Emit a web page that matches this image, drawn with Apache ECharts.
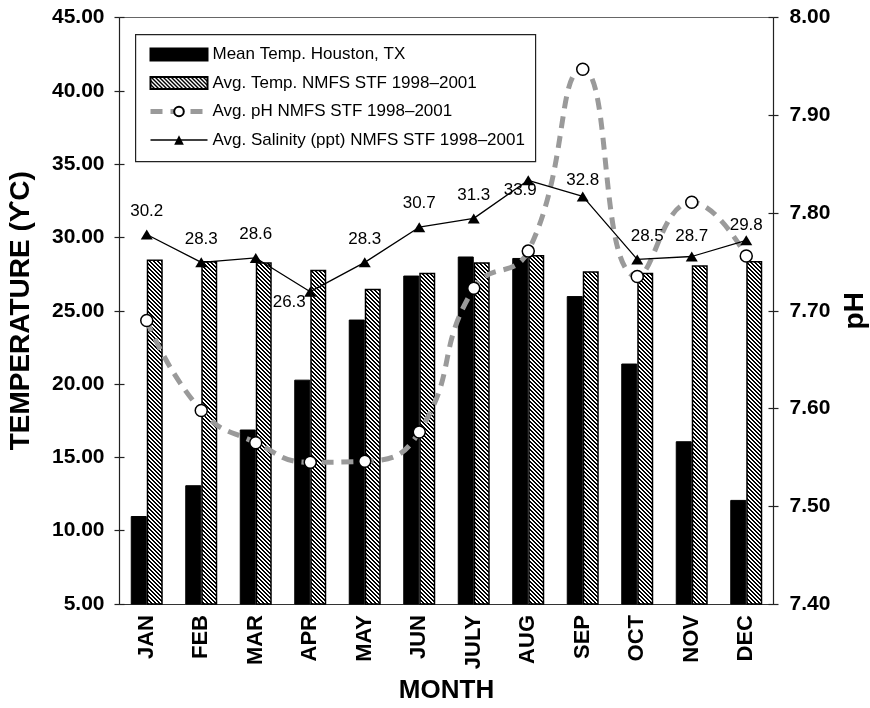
<!DOCTYPE html>
<html>
<head>
<meta charset="utf-8">
<script src="https://cdn.jsdelivr.net/npm/echarts@6/dist/echarts.min.js"></script>
<style>
html,body{margin:0;padding:0;background:#fff;}
#chart{width:870px;height:708px;}
</style>
</head>
<body>
<div id="chart"></div>
<script>
// ---- data ----
const months = ['JAN','FEB','MAR','APR','MAY','JUN','JULY','AUG','SEP','OCT','NOV','DEC'];
const meanTempHouston = [11.0, 13.1, 16.9, 20.3, 24.4, 27.4, 28.7, 28.6, 26.0, 21.4, 16.1, 12.1];
const avgTempNMFS = [28.5, 28.4, 28.3, 27.8, 26.5, 27.6, 28.3, 28.8, 27.7, 27.6, 28.1, 28.4];
const avgPH = [7.690, 7.598, 7.565, 7.545, 7.546, 7.576, 7.723, 7.761, 7.947, 7.735, 7.811, 7.756];
const avgSalinity = [30.2, 28.3, 28.6, 26.3, 28.3, 30.7, 31.3, 33.9, 32.8, 28.5, 28.7, 29.8];
const seriesNames = ['Mean Temp. Houston, TX', 'Avg. Temp. NMFS STF 1998\u20132001', 'Avg. pH NMFS STF 1998\u20132001', 'Avg. Salinity (ppt) NMFS STF 1998\u20132001'];
const tempTicks = {min: 5, max: 45, interval: 5};
const phTicks = {min: 7.4, max: 8.0, interval: 0.1};

// ---- styling helpers ----
const FF = '"Liberation Sans", Arial, Helvetica, sans-serif';
const labelOffsets = [[0,0],[0,0],[0,0],[-21,34],[0,0],[0,0],[0,0],[-8,34],[0,7],[10,0],[0,3],[0,8]];

function makeHatch() {
  const c = document.createElement('canvas');
  c.width = 4; c.height = 4;
  const ctx = c.getContext('2d');
  ctx.fillStyle = '#fff'; ctx.fillRect(0,0,4,4);
  ctx.fillStyle = '#000';
  for (let i = 0; i < 4; i++) { ctx.fillRect(i, i, 1, 1); ctx.fillRect((i+1)%4, i, 1, 1); }
  return c;
}
const hatch = makeHatch();

const chart = echarts.init(document.getElementById('chart'), null, {renderer: 'canvas'});

const tickLabel = {fontSize: 21, fontWeight: 'bold', color: '#000', fontFamily: FF};
const titleStyle = {fontSize: 26, fontWeight: 'bold', color: '#000', fontFamily: FF};
const vTitleStyle = {fontSize: 28, fontWeight: 'bold', color: '#000', fontFamily: FF};

const option = {
  animation: false,
  backgroundColor: '#fff',
  textStyle: {fontFamily: FF},
  grid: {left: 119.5, right: 96.5, top: 17.5, bottom: 104, containLabel: false, outerBoundsMode: 'none'},
  graphic: [{
    type: 'rect', left: 135, top: 34, z: 1,
    shape: {width: 400, height: 127},
    style: {fill: '#fff', stroke: '#222', lineWidth: 1.2}
  }],
  legend: {
    orient: 'vertical', left: 143, top: 41, z: 10,
    itemWidth: 57, itemHeight: 12, itemGap: 11.5,
    selectedMode: false,
    textStyle: {fontSize: 17, color: '#000', fontFamily: FF},
    data: [
      {name: seriesNames[0], icon: 'rect'},
      {name: seriesNames[1], icon: 'rect'},
      {name: seriesNames[2], lineStyle: {width: 5}},
      {name: seriesNames[3], lineStyle: {width: 1.3}}
    ]
  },
  xAxis: [
    {
      type: 'category', data: months, position: 'bottom',
      axisLine: {lineStyle: {color: '#333', width: 1.2}},
      axisTick: {length: 5, lineStyle: {color: '#333', width: 1.2}},
      axisLabel: {rotate: 90, interval: 0, margin: 11, fontSize: 22, fontWeight: 'bold', color: '#000', fontFamily: FF},
      name: 'MONTH', nameLocation: 'middle', nameGap: 74, nameTextStyle: titleStyle
    },
    {
      type: 'category', data: months, position: 'top',
      axisLine: {lineStyle: {color: '#666', width: 1.2}},
      axisTick: {show: false}, axisLabel: {show: false}
    }
  ],
  yAxis: [
    {
      type: 'value', position: 'left', min: tempTicks.min, max: tempTicks.max, interval: tempTicks.interval,
      axisLine: {show: true, lineStyle: {color: '#222', width: 1.2}},
      axisTick: {show: true, length: 5, lineStyle: {color: '#222', width: 1.2}},
      splitLine: {show: false},
      axisLabel: Object.assign({margin: 15, formatter: v => v.toFixed(2)}, tickLabel),
      name: 'TEMPERATURE (\u03D2C)', nameLocation: 'middle', nameRotate: 90, nameGap: 84, nameTextStyle: vTitleStyle
    },
    {
      type: 'value', position: 'right', min: phTicks.min, max: phTicks.max, interval: phTicks.interval,
      axisLine: {show: true, lineStyle: {color: '#222', width: 1.2}},
      axisTick: {show: true, length: 5, lineStyle: {color: '#222', width: 1.2}},
      splitLine: {show: false},
      axisLabel: Object.assign({margin: 16, formatter: v => v.toFixed(2)}, tickLabel),
      name: 'pH', nameLocation: 'middle', nameRotate: 90, nameGap: 68, nameTextStyle: vTitleStyle
    },
    {
      type: 'value', position: 'left', min: tempTicks.min, max: tempTicks.max, interval: tempTicks.interval,
      axisLine: {show: false}, splitLine: {show: false}, axisLabel: {show: false},
      axisTick: {show: true, inside: true, length: 5, lineStyle: {color: '#222', width: 1.2}}
    },
    {
      type: 'value', position: 'right', min: phTicks.min, max: phTicks.max, interval: phTicks.interval,
      axisLine: {show: false}, splitLine: {show: false}, axisLabel: {show: false},
      axisTick: {show: true, inside: true, length: 5, lineStyle: {color: '#222', width: 1.2}}
    }
  ],
  series: [
    {
      name: seriesNames[0], type: 'bar', data: meanTempHouston,
      barWidth: 16, barGap: '0%',
      itemStyle: {color: '#000', borderColor: '#000', borderWidth: 1}
    },
    {
      name: seriesNames[1], type: 'bar', data: avgTempNMFS,
      barWidth: 16, barGap: '0%',
      itemStyle: {color: {image: hatch, repeat: 'repeat'}, borderColor: '#000', borderWidth: 1.5}
    },
    {
      name: seriesNames[2], type: 'line', yAxisIndex: 1, data: avgPH,
      smooth: 0.5, z: 3,
      symbol: 'circle', symbolSize: 12,
      lineStyle: {color: '#9a9a9a', width: 5, type: [12, 8]},
      itemStyle: {color: '#fff', borderColor: '#000', borderWidth: 1.5}
    },
    {
      name: seriesNames[3], type: 'line', data: avgSalinity.map((v, i) => ({
        value: v,
        label: {offset: labelOffsets[i]}
      })),
      z: 4,
      symbol: 'triangle', symbolSize: [12, 10],
      lineStyle: {color: '#000', width: 1.3},
      itemStyle: {color: '#000'},
      label: {show: true, position: 'top', distance: 10, fontSize: 17, color: '#000', fontFamily: FF, formatter: p => p.value.toFixed(1)}
    }
  ]
};
chart.setOption(option);
</script>
</body>
</html>
